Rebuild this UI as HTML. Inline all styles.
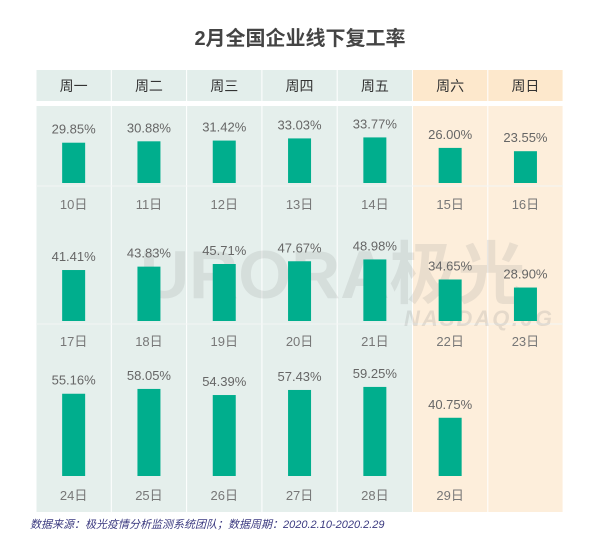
<!DOCTYPE html>
<html><head><meta charset="utf-8"><style>
body{margin:0;width:600px;height:550px;background:#fff;position:relative;overflow:hidden;font-family:"Liberation Sans","Noto Sans CJK SC",sans-serif}
#title{position:absolute;top:22px;left:0;width:600px;text-align:center;font-size:20px;font-weight:bold;color:#444}
#foot{position:absolute;left:30px;top:516px;font-size:11px;font-style:italic;color:#3b3a80}
</style></head><body>
<div id="title">2月全国企业线下复工率</div>
<svg id="chart" width="600" height="550" style="position:absolute;left:0;top:0"></svg>
<div id="foot">数据来源：极光疫情分析监测系统团队；数据周期：2020.2.10-2020.2.29</div>
<script>
const weekdays=["周一","周二","周三","周四","周五","周六","周日"];
const dates=[["10日","11日","12日","13日","14日","15日","16日"],["17日","18日","19日","20日","21日","22日","23日"],["24日","25日","26日","27日","28日","29日",""]];
const values=[[29.85,30.88,31.42,33.03,33.77,26.00,23.55],[41.41,43.83,45.71,47.67,48.98,34.65,28.90],[55.16,58.05,54.39,57.43,59.25,40.75,null]];
const NS="http://www.w3.org/2000/svg";
const svg=document.getElementById('chart');
function el(t,a,p){const e=document.createElementNS(NS,t);for(const k in a)e.setAttribute(k,a[k]);(p||svg).appendChild(e);return e;}
const x0=36,cw=75.3,bw=23;
const colX=i=>x0+i*cw;
const rowBase=[183,321,476];
const rowScale=[v=>1.35*v,v=>1.4*v-7,v=>1.667*v-9.7];
const dateY=[209,346,500];
for(let i=0;i<7;i++){
 const we=i>=5;
 const h=el('rect',{x:colX(i)+0.5,y:70,width:cw-1,height:31,fill:we?'#fde8cc':'#e3eeeb'});
 
 const b=el('rect',{x:colX(i)+0.5,y:106,width:cw-1,height:406,fill:we?'#fdeedb':'#e5efec'});
 
 const t=el('text',{x:colX(i)+cw/2,y:91,'text-anchor':'middle','font-size':14,fill:'#333'});
 t.textContent=weekdays[i];
 
}
for(const y of [186,324]){el('line',{x1:36,x2:563,y1:y,y2:y,stroke:'#f3f6f5','stroke-width':1});}
const w1=el('text',{x:140,y:298,'font-size':68,'font-weight':'bold',fill:'#888',opacity:0.16});w1.textContent='URORA极光';

const w2=el('text',{x:404,y:326,'font-size':22,'font-weight':'bold','font-style':'italic',fill:'#888',opacity:0.2,'letter-spacing':2});w2.textContent='NASDAQ:JG';

for(let r=0;r<3;r++)for(let i=0;i<7;i++){
 const cx=colX(i)+cw/2;
 const v=values[r][i];
 if(v!=null){
  const h=rowScale[r](v);
  const bar=el('rect',{x:cx-bw/2,y:rowBase[r]-h,width:bw,height:h,fill:'#00ae8d'});
  
  const lb=el('text',{x:cx,y:rowBase[r]-h-9,'text-anchor':'middle','font-size':13,fill:'#666'});
  lb.textContent=v.toFixed(2)+'%';
  
 }
 if(dates[r][i]){
  const d=el('text',{x:cx,y:dateY[r],'text-anchor':'middle','font-size':13,fill:'#777'});
  d.textContent=dates[r][i];
  
 }
}
</script>
</body></html>
